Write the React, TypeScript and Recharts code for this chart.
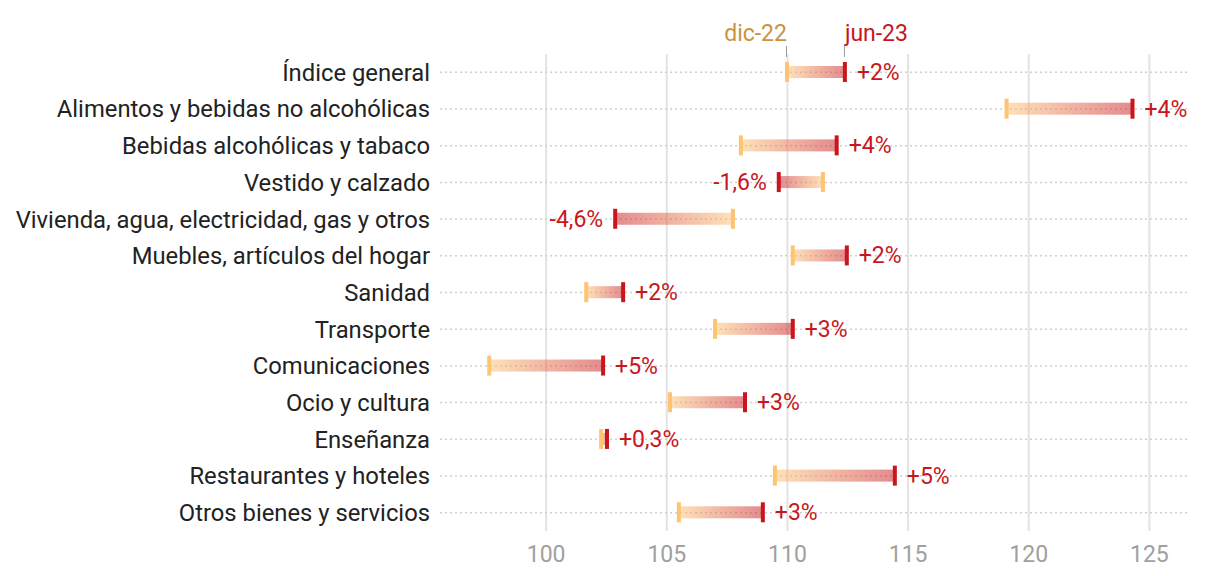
import React from 'react';
import { BarChart, Bar, XAxis, YAxis, CartesianGrid } from 'recharts';

const categories = [
  'Índice general',
  'Alimentos y bebidas no alcohólicas',
  'Bebidas alcohólicas y tabaco',
  'Vestido y calzado',
  'Vivienda, agua, electricidad, gas y otros',
  'Muebles, artículos del hogar',
  'Sanidad',
  'Transporte',
  'Comunicaciones',
  'Ocio y cultura',
  'Enseñanza',
  'Restaurantes y hoteles',
  'Otros bienes y servicios',
];
const dic22 = [109.98, 119.08, 108.07, 111.47, 107.74, 110.22, 101.66, 107.0, 97.64, 105.13, 102.28, 109.48, 105.5];
const jun23 = [112.38, 124.3, 112.04, 109.64, 102.86, 112.46, 103.19, 110.22, 102.36, 108.24, 102.52, 114.45, 108.98];
const pctLabels = ['+2%', '+4%', '+4%', '-1,6%', '-4,6%', '+2%', '+2%', '+3%', '+5%', '+3%', '+0,3%', '+5%', '+3%'];
const xTicks = [100, 105, 110, 115, 120, 125];
const seriesNames = ['dic-22', 'jun-23'];

const data = categories.map((name, i) => ({
  name,
  dic: dic22[i],
  jun: jun23[i],
  range: [Math.min(dic22[i], jun23[i]), Math.max(dic22[i], jun23[i])],
  label: pctLabels[i],
}));

const RED = '#c8161d';
const ORANGE = '#fdc471';
const GOLD = '#c99342';

const DumbbellShape = (props: any) => {
  const { x, y, width, height, payload, index } = props;
  if (x == null || y == null) return null;
  const up = payload.jun >= payload.dic;
  const left = x;
  const right = x + width;
  const cy = y + height / 2;
  const dicX = up ? left : right;
  const junX = up ? right : left;
  const barH = 12;
  const capH = 20;
  const capW = 4;
  return (
    <g>
      <rect
        x={left}
        y={cy - barH / 2}
        width={Math.max(width, 0)}
        height={barH}
        fill={up ? 'url(#gradUp)' : 'url(#gradDown)'}
      />
      <rect x={dicX - capW / 2} y={cy - capH / 2} width={capW} height={capH} fill={ORANGE} />
      <rect x={junX - capW / 2} y={cy - capH / 2} width={capW} height={capH} fill={RED} />
      <text
        x={up ? junX + 12 : junX - 12}
        y={cy + 8}
        textAnchor={up ? 'start' : 'end'}
        fill={RED}
        fontSize={23}
      >
        {payload.label}
      </text>
      {index === 0 && (
        <g>
          <line x1={dicX - 0.5} x2={dicX - 0.5} y1={46} y2={57} stroke="#999" strokeWidth={1} />
          <line x1={junX - 0.5} x2={junX - 0.5} y1={46} y2={57} stroke="#999" strokeWidth={1} />
          <text x={dicX} y={41} textAnchor="end" fill={GOLD} fontSize={23}>
            {seriesNames[0]}
          </text>
          <text x={junX} y={41} textAnchor="start" fill={RED} fontSize={23}>
            {seriesNames[1]}
          </text>
        </g>
      )}
    </g>
  );
};

export default function App() {
  return (
    <div
      style={{
        position: 'absolute',
        left: 0,
        top: 0,
        width: 1220,
        height: 576,
        background: '#fff',
        fontFamily: 'Roboto, sans-serif',
      }}
    >
      <BarChart
        width={1220}
        height={576}
        data={data}
        layout="vertical"
        margin={{ top: 54, right: 32, bottom: 15, left: 0 }}
        barSize={20}
      >
        <defs>
          <linearGradient id="gradUp" x1="0" y1="0" x2="1" y2="0">
            <stop offset="0%" stopColor={ORANGE} stopOpacity={0.5} />
            <stop offset="100%" stopColor={RED} stopOpacity={0.5} />
          </linearGradient>
          <linearGradient id="gradDown" x1="0" y1="0" x2="1" y2="0">
            <stop offset="0%" stopColor={RED} stopOpacity={0.5} />
            <stop offset="100%" stopColor={ORANGE} stopOpacity={0.5} />
          </linearGradient>
        </defs>
        <CartesianGrid horizontal={false} vertical={true} syncWithTicks stroke="#e3e3e3" strokeWidth={2} />
        <CartesianGrid
          horizontal={true}
          vertical={false}
          syncWithTicks
          stroke="#cfcfcf"
          strokeWidth={1.5}
          strokeDasharray="2 3"
        />
        <XAxis
          type="number"
          domain={[95.6, 126.6]}
          ticks={xTicks}
          allowDataOverflow
          axisLine={false}
          tickLine={false}
          tickMargin={9}
          height={30}
          tick={{ fill: '#a0a0a0', fontSize: 23 }}
        />
        <YAxis
          type="category"
          dataKey="name"
          width={440}
          axisLine={false}
          tickLine={false}
          tickMargin={4}
          interval={0}
          tick={{ fill: '#222', fontSize: 23.8 }}
        />
        <Bar dataKey="range" isAnimationActive={false} shape={DumbbellShape} />
      </BarChart>
    </div>
  );
}
